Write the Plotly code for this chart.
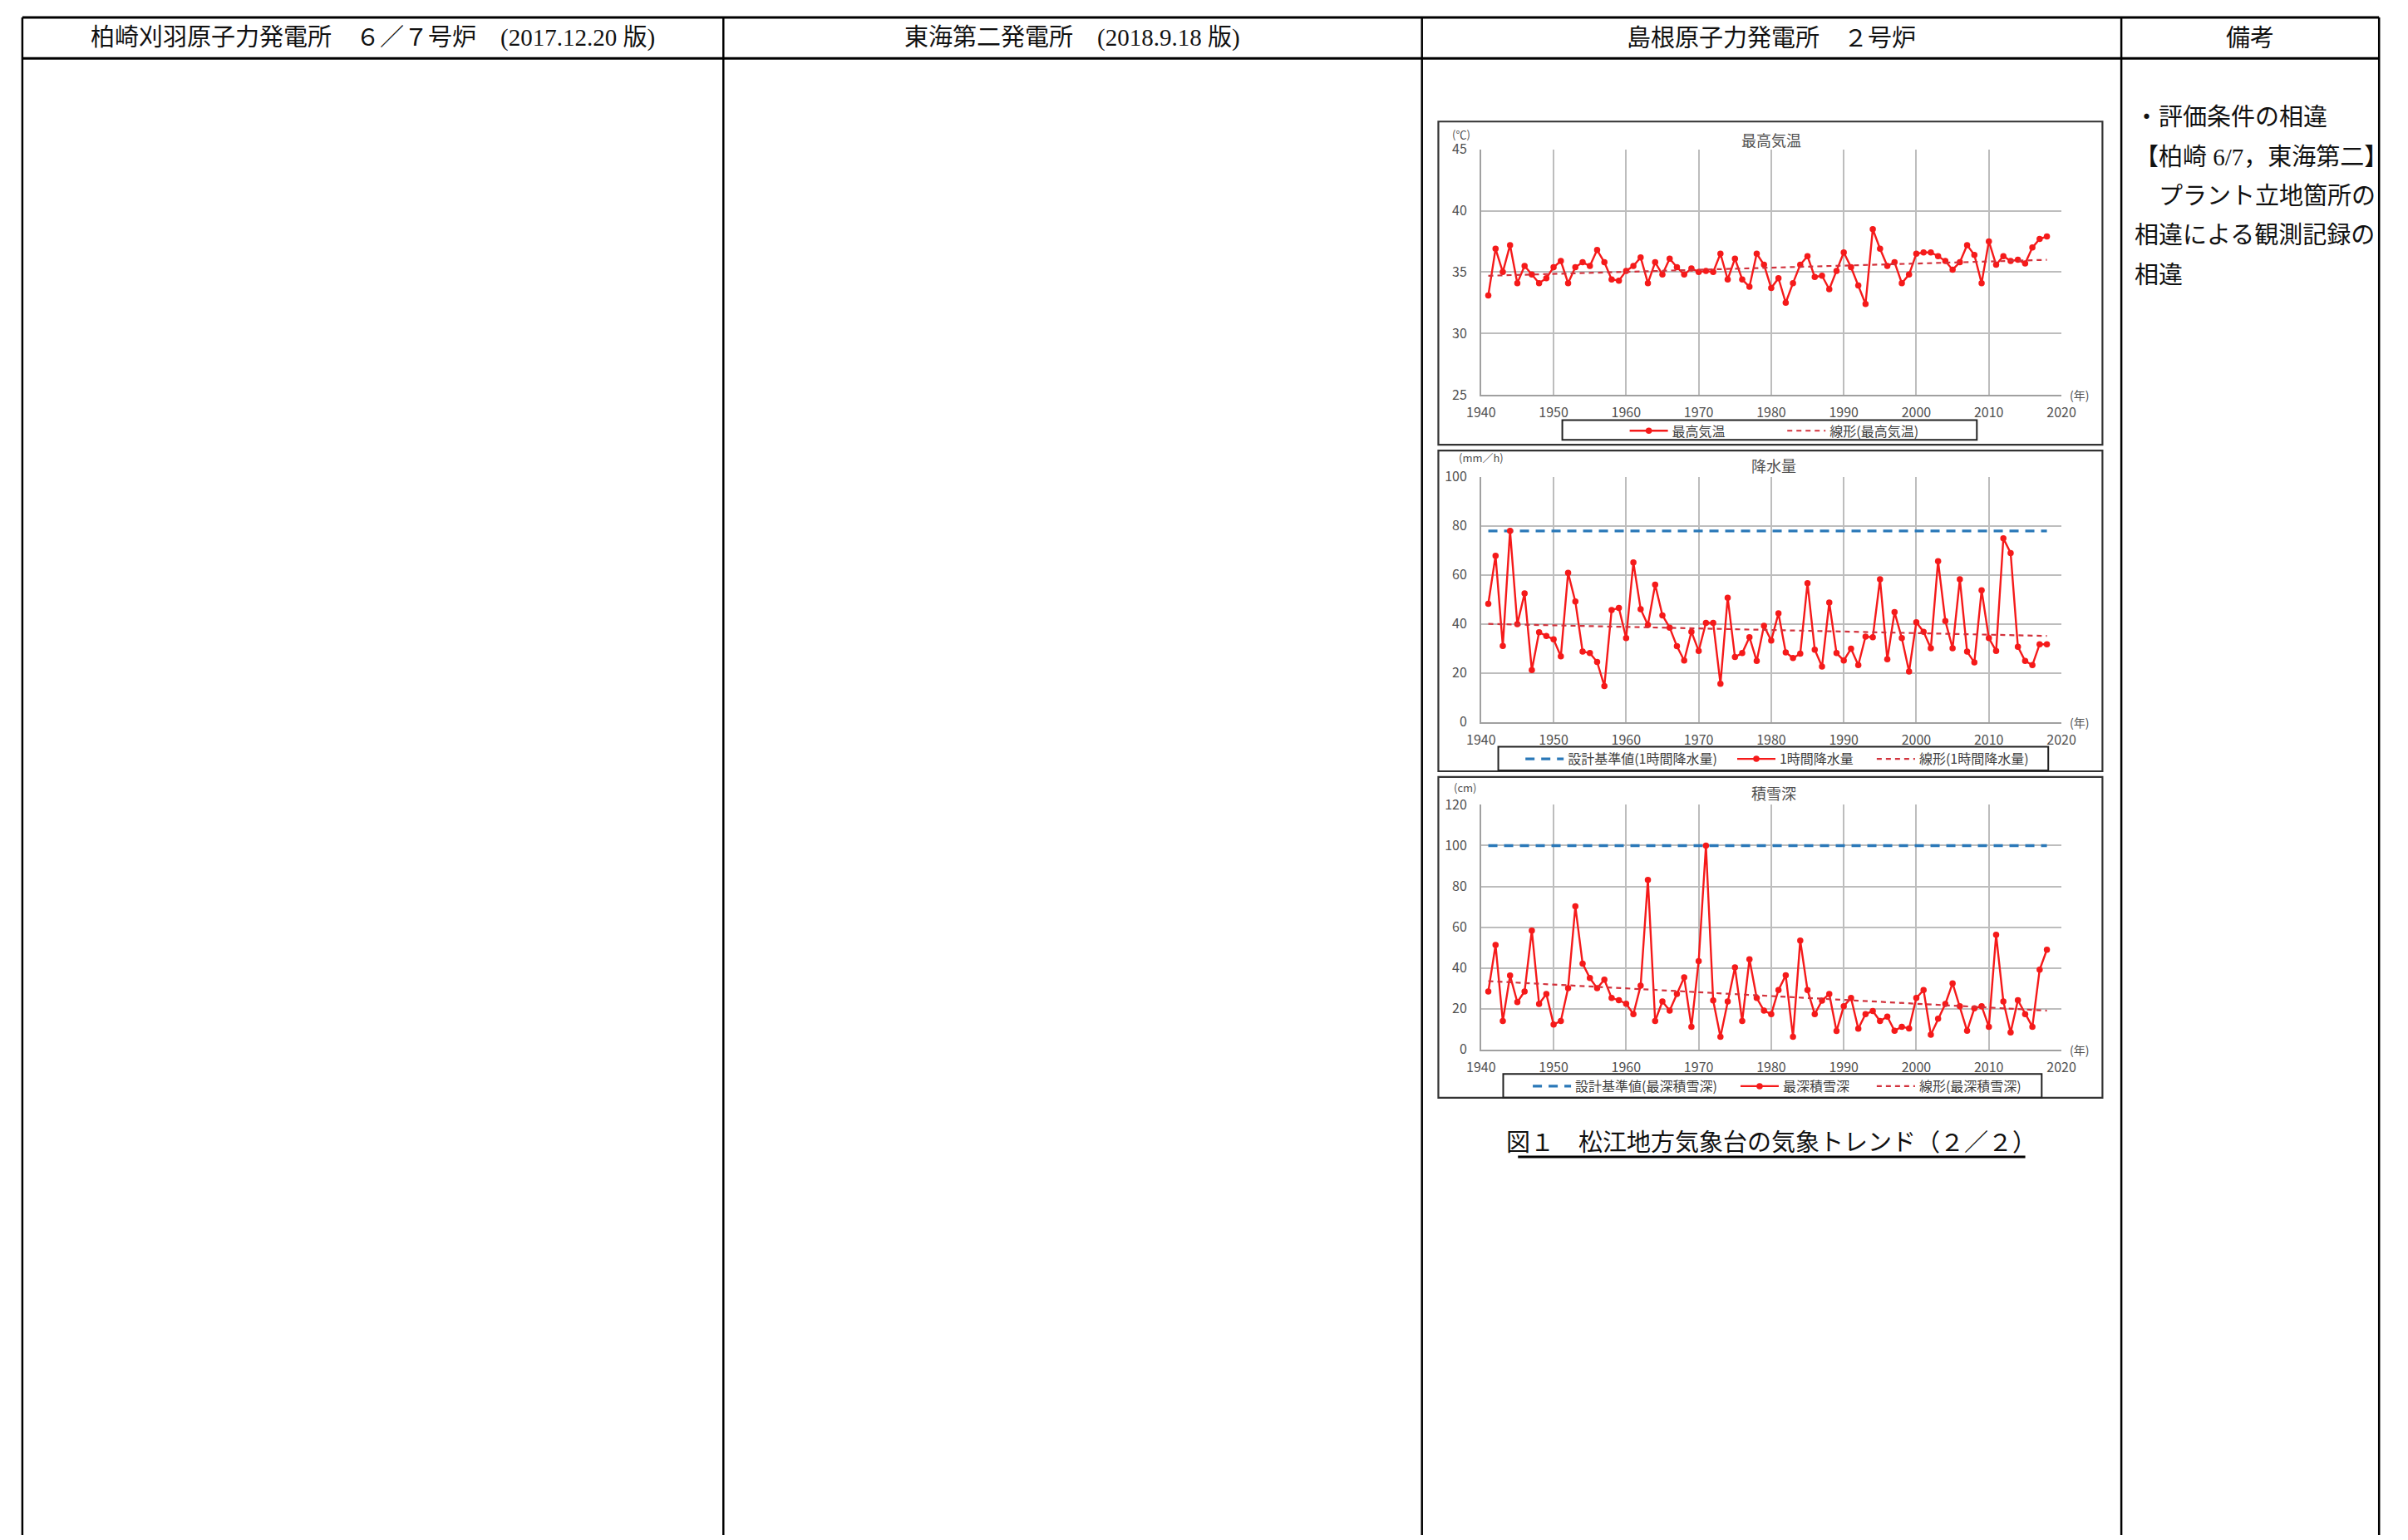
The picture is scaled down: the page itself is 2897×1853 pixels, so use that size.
import plotly.graph_objects as go

# ---------------- data ----------------
years = list(range(1941, 2019))

max_temp = [33.1, 36.9, 35.0, 37.2, 34.1, 35.5, 34.8, 34.1, 34.5, 35.4,
            35.9, 34.1, 35.4, 35.8, 35.5, 36.8, 35.8, 34.4, 34.3, 35.1,
            35.5, 36.2, 34.1, 35.8, 34.8, 36.1, 35.4, 34.8, 35.3, 35.0,
            35.1, 35.0, 36.5, 34.4, 36.1, 34.4, 33.8, 36.5, 35.6, 33.7,
            34.5, 32.5, 34.1, 35.6, 36.3, 34.6, 34.7, 33.6, 35.1, 36.6,
            35.4, 33.9, 32.4, 38.5, 36.9, 35.5, 35.8, 34.1, 34.8, 36.5,
            36.6, 36.6, 36.3, 35.9, 35.2, 35.8, 37.2, 36.4, 34.1, 37.5,
            35.6, 36.3, 35.9, 36.0, 35.7, 37.0, 37.7, 37.9]

precip_1h = [48.2, 67.8, 31.0, 77.9, 39.9, 52.4, 21.2, 36.6, 35.1, 33.7,
             26.8, 60.8, 49.1, 28.7, 28.1, 24.5, 14.7, 45.7, 46.5, 34.2,
             65.1, 46.0, 39.6, 56.0, 43.5, 38.5, 30.9, 25.1, 36.8, 29.0,
             40.4, 40.4, 15.6, 50.7, 26.5, 28.1, 34.6, 24.9, 39.2, 33.2,
             44.3, 28.4, 26.1, 27.9, 56.6, 29.5, 22.6, 48.7, 28.1, 25.1,
             29.9, 23.2, 34.8, 34.6, 58.2, 25.6, 44.8, 34.2, 20.6, 40.7,
             36.8, 30.1, 65.6, 41.2, 30.1, 58.2, 28.7, 24.3, 53.7, 34.2,
             29.0, 74.9, 68.9, 30.7, 24.9, 23.2, 31.7, 31.7]

snow_depth = [28.4, 51.2, 13.9, 36.2, 23.2, 28.4, 58.3, 22.3, 27.2, 12.2,
              13.9, 30.0, 70.2, 42.1, 35.0, 30.0, 34.2, 25.2, 24.1, 22.4,
              17.3, 31.2, 83.2, 13.9, 23.5, 19.0, 27.2, 35.3, 11.1, 43.3,
              100.0, 24.0, 6.2, 23.5, 40.2, 13.9, 44.2, 25.2, 19.0, 17.3,
              29.1, 36.3, 6.2, 53.4, 29.1, 17.3, 23.9, 27.2, 9.0, 21.2,
              25.2, 10.1, 17.3, 18.8, 13.9, 16.1, 9.1, 11.1, 10.2, 25.2,
              29.1, 7.2, 15.0, 22.3, 32.4, 21.2, 9.1, 20.1, 21.2, 11.1,
              56.2, 23.5, 8.3, 24.1, 17.3, 11.1, 39.1, 48.9]

design_precip = 77.9
design_snow = 100.0

trend_temp = [34.7, 36.0]      # linear trend values at first / last year
trend_precip = [40.0, 35.1]
trend_snow = [33.5, 19.0]

header_texts = ["柏崎刈羽原子力発電所　６／７号炉　(2017.12.20 版)",
                "東海第二発電所　(2018.9.18 版)",
                "島根原子力発電所　２号炉",
                "備考"]
remark_lines = ["・評価条件の相違",
                "【柏崎 6/7，東海第二】",
                "　プラント立地箇所の",
                "相違による観測記録の",
                "相違"]
caption = "図１　松江地方気象台の気象トレンド（２／２）"

chart_titles = ["最高気温", "降水量", "積雪深"]
unit_labels = ["(℃)", "(mm／h)", "(cm)"]
year_label = "(年)"
names_temp = ["最高気温", "線形(最高気温)"]
names_precip = ["設計基準値(1時間降水量)", "1時間降水量", "線形(1時間降水量)"]
names_snow = ["設計基準値(最深積雪深)", "最深積雪深", "線形(最深積雪深)"]

# ---------------- styling / geometry ----------------
W, H = 2897, 1853


def px(x):
    return x / W


def py(y):
    return 1 - y / H


CJK = "Noto Sans CJK JP"
SERIF = "Liberation Serif, Noto Sans CJK JP"
NUM = "Liberation Sans Narrow, Noto Sans CJK JP"
RED = "#F51A1A"
TREND = "#D2323C"
BLUE = "#2A78B8"
TXT = "#505050"

fig = go.Figure()

ends = [years[0], years[-1]]

# chart 1
fig.add_trace(go.Scatter(x=years, y=max_temp, name=names_temp[0], mode="lines+markers",
                         line=dict(color=RED, width=2.4), marker=dict(size=7.5, color=RED),
                         xaxis="x", yaxis="y", legend="legend"))
fig.add_trace(go.Scatter(x=ends, y=trend_temp, name=names_temp[1], mode="lines",
                         line=dict(color=TREND, width=2.2, dash="6px,5px"),
                         xaxis="x", yaxis="y", legend="legend2"))
# chart 2
fig.add_trace(go.Scatter(x=ends, y=[design_precip, design_precip], name=names_precip[0], mode="lines",
                         line=dict(color=BLUE, width=3.4, dash="11px,8px"),
                         xaxis="x2", yaxis="y2", legend="legend3"))
fig.add_trace(go.Scatter(x=years, y=precip_1h, name=names_precip[1], mode="lines+markers",
                         line=dict(color=RED, width=2.4), marker=dict(size=7.5, color=RED),
                         xaxis="x2", yaxis="y2", legend="legend4"))
fig.add_trace(go.Scatter(x=ends, y=trend_precip, name=names_precip[2], mode="lines",
                         line=dict(color=TREND, width=2.2, dash="6px,5px"),
                         xaxis="x2", yaxis="y2", legend="legend5"))
# chart 3
fig.add_trace(go.Scatter(x=ends, y=[design_snow, design_snow], name=names_snow[0], mode="lines",
                         line=dict(color=BLUE, width=3.4, dash="11px,8px"),
                         xaxis="x3", yaxis="y3", legend="legend6"))
fig.add_trace(go.Scatter(x=years, y=snow_depth, name=names_snow[1], mode="lines+markers",
                         line=dict(color=RED, width=2.4), marker=dict(size=7.5, color=RED),
                         xaxis="x3", yaxis="y3", legend="legend7"))
fig.add_trace(go.Scatter(x=ends, y=trend_snow, name=names_snow[2], mode="lines",
                         line=dict(color=TREND, width=2.2, dash="6px,5px"),
                         xaxis="x3", yaxis="y3", legend="legend8"))

# plot area geometry (pixels)
PX0, PX1 = 1786, 2493
plots = [(169, 468, [25, 45], 5), (568, 867, [0, 100], 20), (968, 1266, [0, 120], 20)]


def xax(anchor, dom):
    return dict(domain=dom, anchor=anchor, range=[1940, 2020], tick0=1940, dtick=10,
                showgrid=True, gridcolor="#BDBDBD", gridwidth=1.5, showline=True,
                linecolor="#A0A0A0", linewidth=1.5, zeroline=False, ticks="",
                tickfont=dict(family=NUM, size=16, color=TXT), ticklabelstandoff=6,
                fixedrange=True)


def yax(anchor, dom, rng, dt):
    return dict(domain=dom, anchor=anchor, range=rng, tick0=rng[0], dtick=dt,
                showgrid=True, gridcolor="#BDBDBD", gridwidth=1.5, showline=True,
                linecolor="#A0A0A0", linewidth=1.5, zeroline=False, ticks="",
                tickfont=dict(family=NUM, size=16, color=TXT), ticklabelstandoff=12,
                fixedrange=True)


xdom = [px(PX0), px(PX1)]
lay = {}
for i, (top, bot, rng, dt) in enumerate(plots):
    sx = "" if i == 0 else str(i + 1)
    ydom = [py(bot), py(top)]
    lay["xaxis" + sx] = xax("y" + sx, xdom)
    lay["yaxis" + sx] = yax("x" + sx, ydom, rng, dt)

# legends (one per entry, placed at symbol positions)
leg_pos = [(1968, 512), (2160, 512),
           (1841, 912), (2099, 912), (2269, 912),
           (1850, 1311), (2103, 1311), (2269, 1311)]
for i, (lx, ly) in enumerate(leg_pos):
    key = "legend" if i == 0 else "legend" + str(i + 1)
    lay[key] = dict(x=px(lx - 6), y=py(ly), xanchor="left", yanchor="middle",
                    orientation="h", bgcolor="rgba(0,0,0,0)", borderwidth=0,
                    itemwidth=46, font=dict(family=CJK, size=16, color="#404040"),
                    itemclick=False, itemdoubleclick=False, visible=True)

shapes = []
# table lines
TL, TR = 9, 2880
COLS = [863, 1714, 2566]
for yy in [8, 58]:
    shapes.append(dict(type="line", xref="paper", yref="paper", x0=px(TL), x1=px(TR),
                       y0=py(yy), y1=py(yy), line=dict(color="black", width=3)))
for xx in [TL] + COLS + [TR]:
    shapes.append(dict(type="line", xref="paper", yref="paper", x0=px(xx), x1=px(xx),
                       y0=py(8), y1=py(H + 5), line=dict(color="black", width=2.5)))
# chart frames
for (t, b) in [(135, 529), (536, 927), (934, 1325)]:
    shapes.append(dict(type="rect", xref="paper", yref="paper", x0=px(1734), x1=px(2543),
                       y0=py(b), y1=py(t), line=dict(color="#333333", width=2.2)))
# legend boxes
for (x0, x1, t, b) in [(1885, 2390, 499, 523), (1807, 2477, 897, 926), (1813, 2469, 1296, 1325)]:
    shapes.append(dict(type="rect", xref="paper", yref="paper", x0=px(x0), x1=px(x1),
                       y0=py(b), y1=py(t), line=dict(color="#222222", width=2)))
# caption underline
shapes.append(dict(type="line", xref="paper", yref="paper", x0=px(1831), x1=px(2449),
                   y0=py(1397), y1=py(1397), line=dict(color="black", width=3)))

ann = []
col_bounds = [TL] + COLS + [TR]
for i, t in enumerate(header_texts):
    cx = (col_bounds[i] + col_bounds[i + 1]) / 2
    ann.append(dict(text=t, x=px(cx), y=py(33), xref="paper", yref="paper",
                    xanchor="center", yanchor="middle", showarrow=False,
                    font=dict(family=SERIF, size=29, color="#111111")))
for i, t in enumerate(remark_lines):
    ann.append(dict(text=t, x=px(2580), y=py(130 + 48 * i), xref="paper", yref="paper",
                    xanchor="left", yanchor="middle", showarrow=False,
                    font=dict(family=SERIF, size=29, color="#111111")))
ann.append(dict(text=caption, x=px(2140), y=py(1380), xref="paper", yref="paper",
                xanchor="center", yanchor="middle", showarrow=False,
                font=dict(family=SERIF, size=29, color="#111111")))

title_pos = [(2140, 157), (2143, 554), (2143, 953)]
unit_pos = [(1762, 150), (1786, 545), (1766, 947)]
for i in range(3):
    ann.append(dict(text=chart_titles[i], x=px(title_pos[i][0]), y=py(title_pos[i][1]),
                    xref="paper", yref="paper", showarrow=False,
                    xanchor="center", yanchor="middle",
                    font=dict(family=CJK, size=18, color=TXT)))
    ann.append(dict(text=unit_labels[i], x=px(unit_pos[i][0]), y=py(unit_pos[i][1]),
                    xref="paper", yref="paper", showarrow=False,
                    xanchor="center", yanchor="middle",
                    font=dict(family=CJK, size=13, color=TXT)))
    ann.append(dict(text=year_label, x=px(2515), y=py(plots[i][1]), xref="paper", yref="paper",
                    showarrow=False, xanchor="center", yanchor="middle",
                    font=dict(family=CJK, size=14, color=TXT)))

fig.update_layout(autosize=True, showlegend=True,
                  margin=dict(l=0, r=0, t=0, b=0, pad=0),
                  paper_bgcolor="white", plot_bgcolor="white",
                  shapes=shapes, annotations=ann, hovermode=False, **lay)

fig.write_html("out.html", config={"displayModeBar": False, "responsive": True},
               default_width="100vw",
               default_height="100vh; position:fixed; top:0px; left:0px; margin:0px",
               post_script="document.body.style.margin='0px';document.body.style.overflow='hidden';")
